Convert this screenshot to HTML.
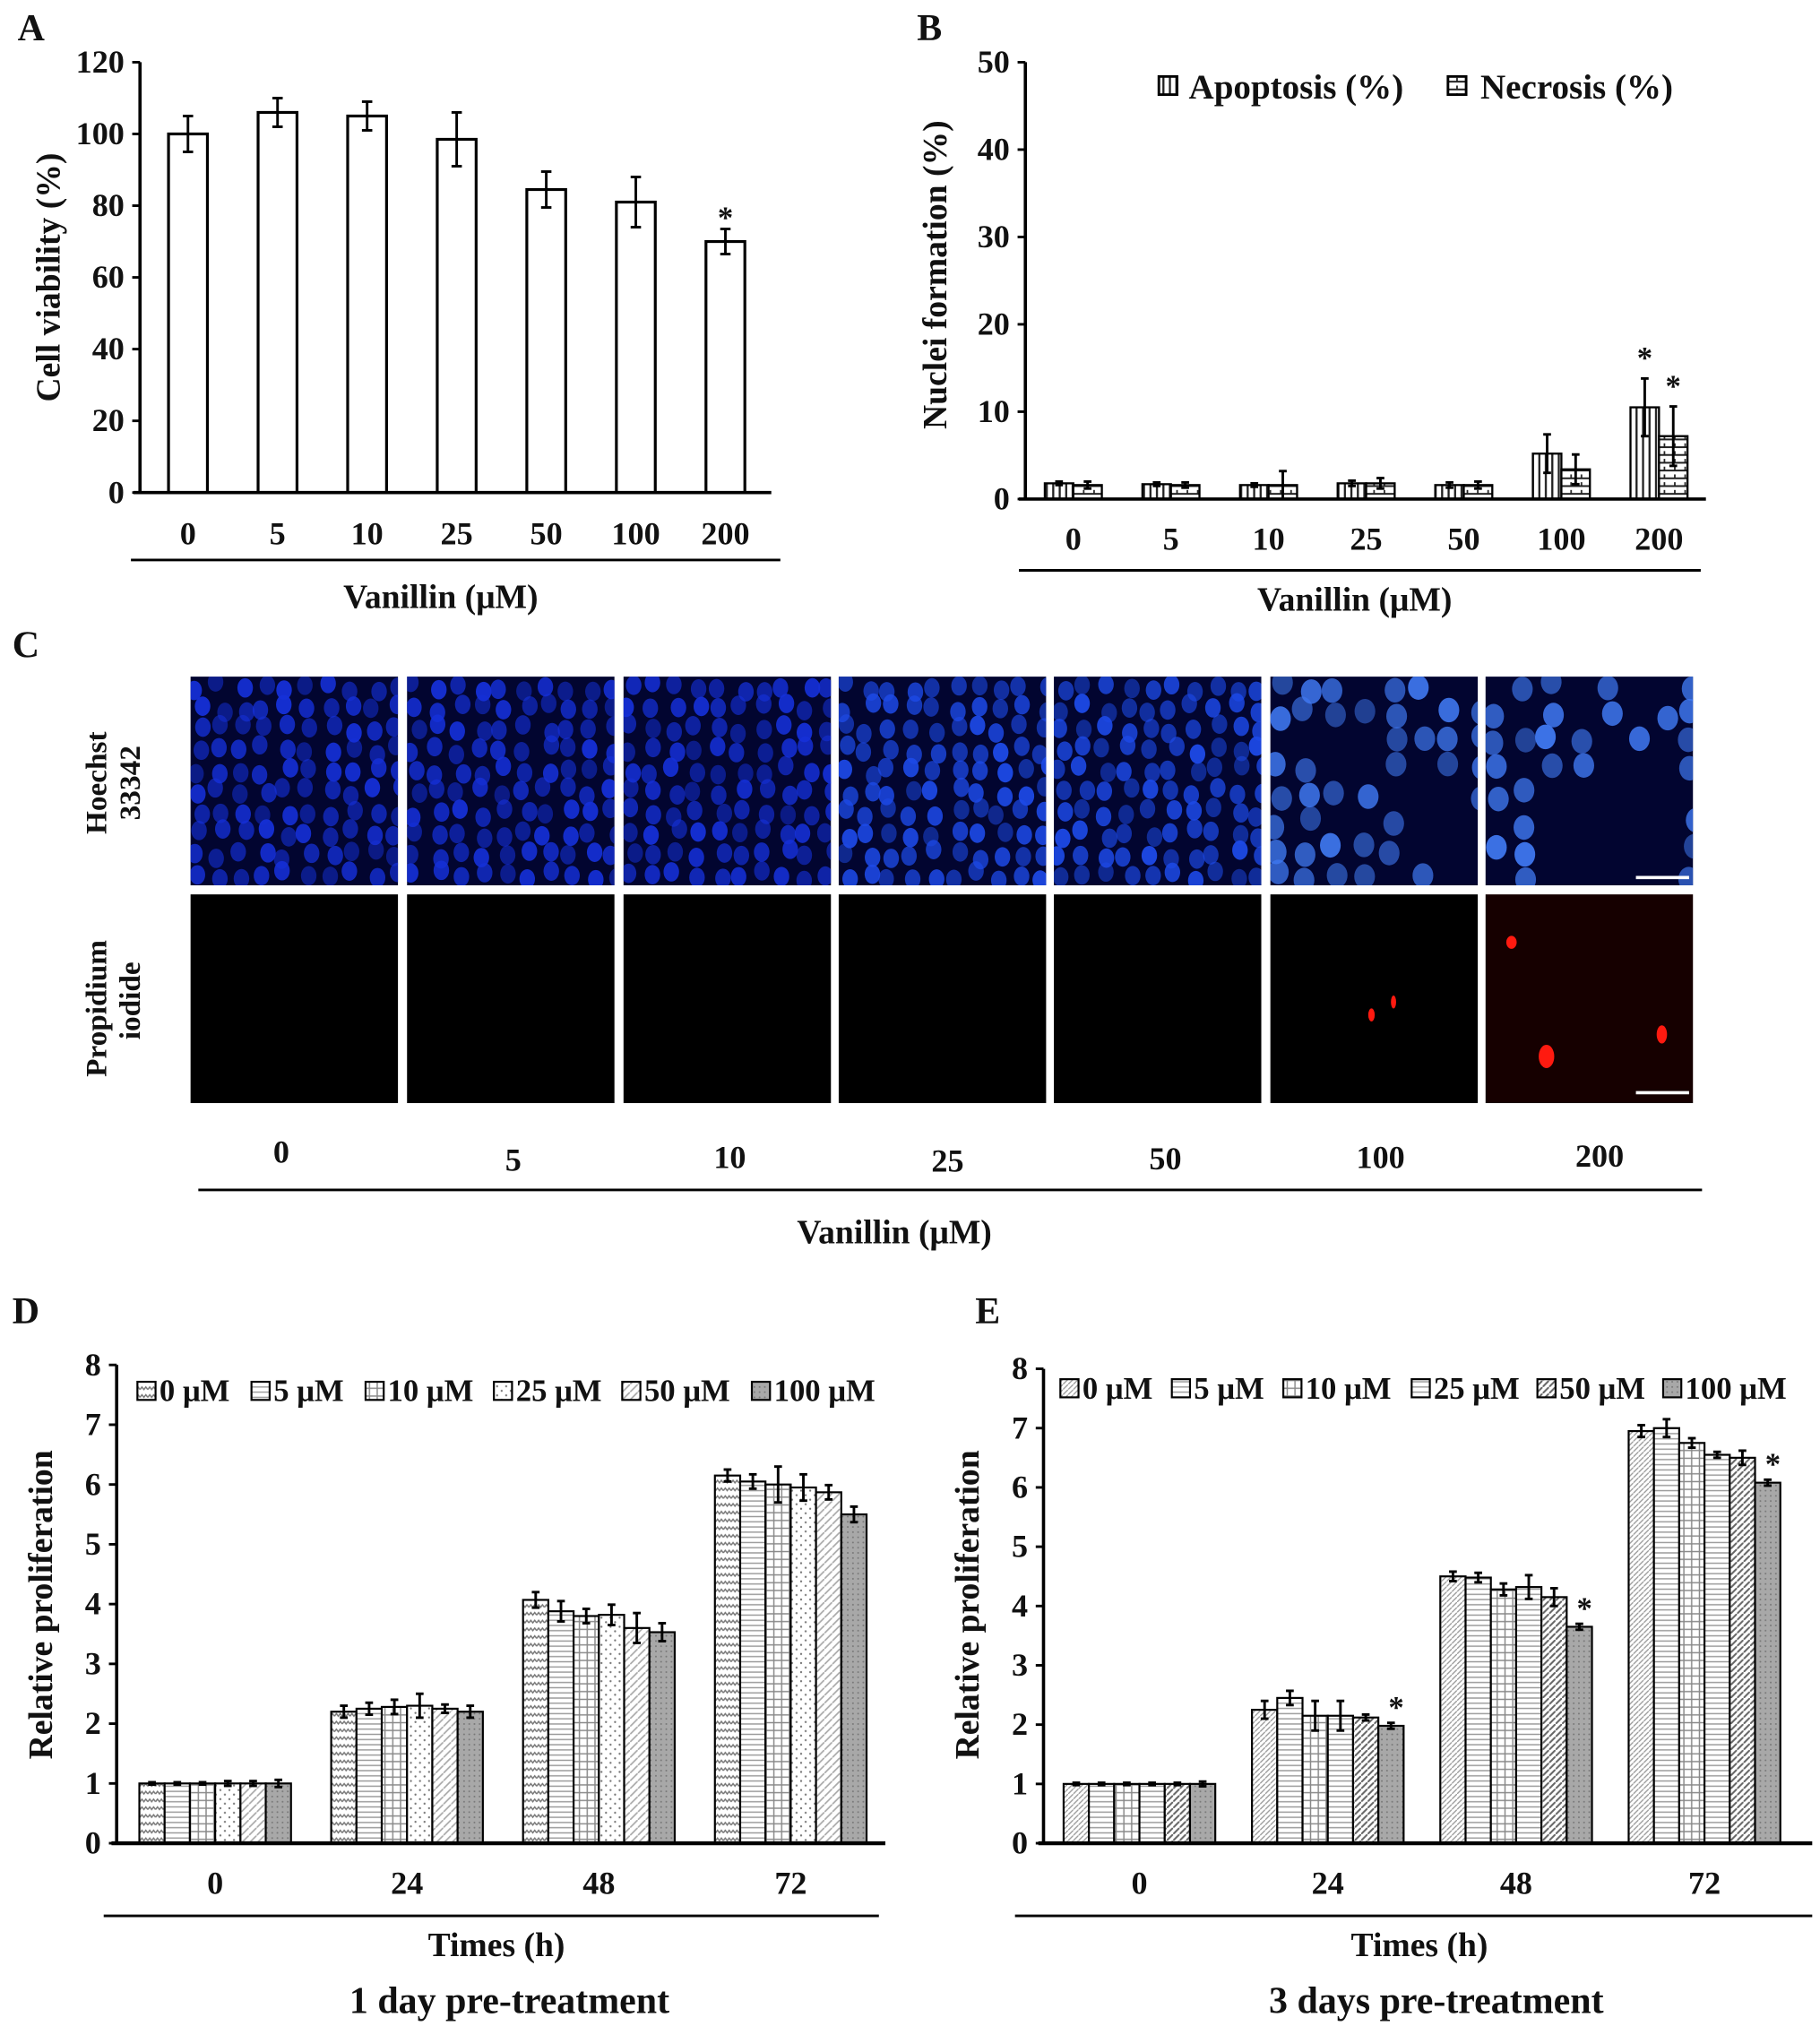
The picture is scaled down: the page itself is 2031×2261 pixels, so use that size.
<!DOCTYPE html>
<html><head><meta charset="utf-8">
<style>
html,body{margin:0;padding:0;background:#fff;}
svg{display:block;}
text{font-family:"Liberation Serif",serif;font-weight:bold;fill:#111;}
</style></head>
<body>
<svg id="fig" width="2031" height="2261" viewBox="0 0 1404 1563" xmlns="http://www.w3.org/2000/svg">
<defs id="defs">
<pattern id="pVert" width="5" height="5" patternUnits="userSpaceOnUse"><rect width="5" height="5" fill="#fff"/><line x1="2.5" y1="0" x2="2.5" y2="5" stroke="#222" stroke-width="1.6"/></pattern>
<pattern id="pBrick" width="8" height="6" patternUnits="userSpaceOnUse"><rect width="8" height="6" fill="#fff"/><line x1="0" y1="3" x2="8" y2="3" stroke="#222" stroke-width="1.4"/><line x1="4" y1="0" x2="4" y2="3" stroke="#222" stroke-width="1.2"/></pattern>
<pattern id="pWave" width="6" height="6" patternUnits="userSpaceOnUse"><rect width="6" height="6" fill="#fff"/><polyline points="0,4 1.5,2 3,4 4.5,2 6,4" fill="none" stroke="#777" stroke-width="1"/></pattern>
<pattern id="pHoriz" width="4" height="4" patternUnits="userSpaceOnUse"><rect width="4" height="4" fill="#fff"/><line x1="0" y1="2" x2="4" y2="2" stroke="#999" stroke-width="1"/></pattern>
<pattern id="pGrid" width="6" height="6" patternUnits="userSpaceOnUse"><rect width="6" height="6" fill="#fff"/><line x1="3" y1="0" x2="3" y2="6" stroke="#888" stroke-width="1"/><line x1="0" y1="3" x2="6" y2="3" stroke="#888" stroke-width="1"/></pattern>
<pattern id="pDots" width="7" height="7" patternUnits="userSpaceOnUse"><rect width="7" height="7" fill="#fff"/><circle cx="2" cy="2" r="0.8" fill="#777"/><circle cx="5.5" cy="5.5" r="0.8" fill="#777"/></pattern>
<pattern id="pDiag" width="6" height="6" patternUnits="userSpaceOnUse"><rect width="6" height="6" fill="#fff"/><line x1="0" y1="6" x2="6" y2="0" stroke="#aaa" stroke-width="1.2"/></pattern>
<pattern id="pDiagBold" width="5" height="5" patternUnits="userSpaceOnUse"><rect width="5" height="5" fill="#fff"/><line x1="0" y1="5" x2="5" y2="0" stroke="#666" stroke-width="1.4"/></pattern>
<pattern id="pDiagDense" width="4" height="4" patternUnits="userSpaceOnUse"><rect width="4" height="4" fill="#fff"/><line x1="0" y1="4" x2="4" y2="0" stroke="#999" stroke-width="0.9"/></pattern>
<pattern id="pGray" width="4" height="4" patternUnits="userSpaceOnUse"><rect width="4" height="4" fill="#a8a8a8"/><circle cx="2" cy="2" r="0.7" fill="#777"/></pattern>
</defs>
<g id="root"></g>
</svg>
<script>
// ---------- Data ----------
const catsA = ["0","5","10","25","50","100","200"];
const valsA = [100,106,105,98.5,84.5,81,70];
const errA  = [5,4,4,7.5,5,7,3.5];
const ticksA = [0,20,40,60,80,100,120];

const catsB = ["0","5","10","25","50","100","200"];
const apoB = [1.8,1.7,1.6,1.8,1.6,5.2,10.5];
const apoErrB = [0.2,0.2,0.2,0.3,0.3,2.2,3.3];
const necB = [1.6,1.6,1.6,1.8,1.6,3.4,7.2];
const necErrB = [0.4,0.3,1.6,0.6,0.4,1.7,3.4];
const ticksB = [0,10,20,30,40,50];

const catsC = ["0","5","10","25","50","100","200"];

const timesDE = ["0","24","48","72"];
const seriesNames = ["0 μM","5 μM","10 μM","25 μM","50 μM","100 μM"];
const ticksDE = [0,1,2,3,4,5,6,7,8];
const valsD0 = [1,1,1,1,1,1];
const valsD24 = [2.2,2.25,2.28,2.3,2.25,2.2];
const valsD48 = [4.07,3.88,3.8,3.82,3.6,3.53];
const valsD72 = [6.15,6.05,6.0,5.95,5.87,5.5];
const errD0 = [0.02,0.02,0.02,0.04,0.04,0.06];
const errD24 = [0.1,0.1,0.12,0.2,0.07,0.1];
const errD48 = [0.13,0.17,0.12,0.17,0.25,0.15];
const errD72 = [0.1,0.12,0.3,0.22,0.12,0.13];
const valsE0 = [1,1,1,1,1,1];
const valsE24 = [2.25,2.45,2.15,2.15,2.12,1.98];
const valsE48 = [4.5,4.48,4.28,4.32,4.15,3.65];
const valsE72 = [6.95,7.0,6.75,6.55,6.5,6.08];
const errE0 = [0.02,0.02,0.02,0.02,0.02,0.04];
const errE24 = [0.15,0.12,0.25,0.25,0.05,0.05];
const errE48 = [0.08,0.08,0.1,0.2,0.15,0.05];
const errE72 = [0.1,0.15,0.08,0.05,0.12,0.05];
const starsE = [[1,5],[2,5],[3,5]];

// ---------- Helpers ----------
const NS="http://www.w3.org/2000/svg";
const root=document.getElementById('root');
const defs=document.getElementById('defs');
const TF=25;
function mk(tag, attrs, parent){const e=document.createElementNS(NS,tag);for(const k in attrs)e.setAttribute(k,attrs[k]);(parent||root).appendChild(e);return e;}
function txt(s,x,y,size,anchor,name,parent,rot){
  const t=mk('text',{x:x,y:y,'font-size':size,'text-anchor':anchor||'middle'},parent);
  t.textContent=s;
  
  
  if(rot) t.setAttribute('transform','rotate(-90 '+x+' '+y+')');
  return t;
}
function line(x1,y1,x2,y2,w,name,parent,col){
  const l=mk('line',{x1:x1,y1:y1,x2:x2,y2:y2,stroke:col||'#000','stroke-width':w},parent);
  
  
  return l;
}
function errbar(x,yv,ye,cap,name,parent){
  line(x,ye.lo,x,ye.hi,2,name,parent);
  line(x-cap,ye.lo,x+cap,ye.lo,2,name+'-cap',parent);
  line(x-cap,ye.hi,x+cap,ye.hi,2,name+'-cap',parent);
}
function yAxis(ax,ticks,name,fs){
  const g=mk('g',{});
  
  
  line(ax.x0,ax.yTop,ax.x0,ax.y0+1,2.5,name+'-line',g);
  ticks.forEach(v=>{
    const y=ax.y(v);
    line(ax.x0-6,y,ax.x0,y,2,name+'-tick',g);
    txt(String(v),ax.x0-12,y+8,fs,'end',name+'-tick-label',g);
  });
  return g;
}
function makeAxis(x0,y0,yTop,max){return {x0:x0,y0:y0,yTop:yTop,y:v=>y0-(v/max)*(y0-yTop)};}

// ---------- Panel A ----------
(function(){
  const g=mk('g',{});
  
  
  txt('A',24,31,29,'middle','panel-a-label',g);
  const ax=makeAxis(108,380,48,120);
  const x=i=>145+i*69.1;
  catsA.forEach((c,i)=>{
    const yv=ax.y(valsA[i]);
    const r=mk('rect',{x:x(i)-15,y:yv,width:30,height:ax.y0-yv,fill:'#fff',stroke:'#000','stroke-width':2.2},g);
    
    
    errbar(x(i),yv,{lo:ax.y(valsA[i]-errA[i]),hi:ax.y(valsA[i]+errA[i])},4,'error-bar-'+c,g);
    txt(c,x(i),420,TF,'middle','x-tick-label',g);
  });
  txt('*',x(6),176,24,'middle','significance-star',g);
  yAxis(ax,ticksA,'y-axis-a',TF);
  line(103,ax.y0,595,ax.y0,2.5,'x-axis-a',g);
  line(101,432,602,432,2,'group-underline',g);
  txt('Vanillin (μM)',340,469,26,'middle','x-axis-title',g);
  txt('Cell viability (%)',46,214,26,'middle','y-axis-title',g,true);
})();

// ---------- Panel B ----------
(function(){
  const g=mk('g',{});
  
  
  txt('B',717,31,29,'middle','panel-b-label',g);
  const ax=makeAxis(791,385,48,50);
  const x=i=>828+i*75.3;
  catsB.forEach((c,i)=>{
    [[apoB,apoErrB,'url(#pVert)',-11,'apoptosis'],[necB,necErrB,'url(#pBrick)',11,'necrosis']].forEach(s=>{
      const v=s[0][i],e=s[1][i],cx=x(i)+s[3];
      const yv=ax.y(v);
      const r=mk('rect',{x:cx-11,y:yv,width:22,height:ax.y0-yv,fill:s[2],stroke:'#000','stroke-width':1.6},g);
      
      
      errbar(cx,yv,{lo:ax.y(Math.max(0,v-e)),hi:ax.y(v+e)},3,'error-bar-'+s[4],g);
    });
    txt(c,x(i),424,TF,'middle','x-tick-label',g);
  });
  txt('*',x(6)-11,284,24,'middle','significance-star',g);
  txt('*',x(6)+11,306,24,'middle','significance-star',g);
  yAxis(ax,ticksB,'y-axis-b',TF);
  line(786,ax.y0,1316,ax.y0,2.5,'x-axis-b',g);
  line(786,440,1312,440,2,'group-underline',g);
  txt('Vanillin (μM)',1045,471,26,'middle','x-axis-title',g);
  txt('Nuclei formation (%)',730,212,26,'middle','y-axis-title',g,true);
  const lg=mk('g',{},g);
  
  
  const r1=mk('rect',{x:894,y:59,width:14,height:14,fill:'url(#pVert)',stroke:'#000','stroke-width':2},lg);
  
  
  txt('Apoptosis (%)',917,76,27,'start','legend-entry-apoptosis',lg);
  const r2=mk('rect',{x:1117,y:59,width:14,height:14,fill:'url(#pBrick)',stroke:'#000','stroke-width':2},lg);
  
  
  txt('Necrosis (%)',1142,76,27,'start','legend-entry-necrosis',lg);
})();

// ---------- Panel C (micrographs) ----------
(function(){
  const g=mk('g',{});
  
  
  txt('C',20,507,29,'middle','panel-c-label',g);
  const colX=[147,314,481,647,813,980,1146];
  let seed=12345;
  const rnd=()=>{seed=(seed*16807)%2147483647;return seed/2147483647;};
  colX.forEach((cx,i)=>{
    const cp=mk('clipPath',{id:'clip'+i},defs);
    mk('rect',{x:cx,y:522,width:160,height:161},cp);
    const h=mk('rect',{x:cx,y:522,width:160,height:161,fill:'#020530'},g);
    
    
    const dense=i<5;
    const step=dense?17:22;
    const cl=mk('g',{'clip-path':'url(#clip'+i+')'},g);
    
    
    for(let yy=530;yy<690;yy+=step*0.95){
      for(let xx=cx+6;xx<cx+165;xx+=step){
        if(!dense && rnd()<0.4) continue;
        if(i===6 && yy>610 && xx>cx+40 && xx<cx+140) continue;
        const ex=xx+(rnd()-0.5)*8, ey=yy+(rnd()-0.5)*8;
        const col=dense? (i>=3?'#1d4ae8':'#1530d8') : '#3f78f0';
        const e=mk('ellipse',{cx:ex,cy:ey,rx:dense?6:8,ry:dense?7.5:9.5,fill:col,opacity:0.5+rnd()*0.45},cl);
        
        
      }
    }
    const p=mk('rect',{x:cx,y:690,width:160,height:161,fill:i===6?'#160000':'#000'},g);
    
    
  });
  [[1058,783,2.5,5],[1075,773,2,5],[1166,727,4,5],[1193,815,6,9],[1282,798,4,7]].forEach(s=>{
    const e=mk('ellipse',{cx:s[0],cy:s[1],rx:s[2],ry:s[3],fill:'#ff1a10'},g);
    
    
  });
  line(1262,677,1303,677,2.5,'scale-bar',g,'#fff');
  line(1262,843,1303,843,2.5,'scale-bar',g,'#fff');
  txt('Hoechst',82,604,23,'middle','row-label-hoechst',g,true);
  txt('33342',108,604,23,'middle','row-label-hoechst',g,true);
  txt('Propidium',82,778,23,'middle','row-label-pi',g,true);
  txt('iodide',108,772,23,'middle','row-label-pi',g,true);
  const lx=[217,396,563,731,899,1065,1234], ly=[897,903,901,904,902,901,900];
  catsC.forEach((c,i)=>txt(c,lx[i],ly[i],TF,'middle','concentration-label',g));
  line(153,918,1313,918,2,'group-underline',g);
  txt('Vanillin (μM)',690,959,26,'middle','x-axis-title',g);
})();

// ---------- Panels D & E ----------
const fillsD=['url(#pWave)','url(#pHoriz)','url(#pGrid)','url(#pDots)','url(#pDiag)','url(#pGray)'];
const fillsE=['url(#pDiagDense)','url(#pHoriz)','url(#pGrid)','url(#pHoriz)','url(#pDiagBold)','url(#pGray)'];
function prolif(p){
  const g=mk('g',{});
  
  
  txt(p.letter,p.lx,1021,29,'middle','panel-label',g);
  const ax=makeAxis(p.x0,1422,p.yTop,8);
  const xg=i=>p.c0+i*p.sp;
  const bw=19.5;
  p.vals.forEach((arr,gi)=>{
    arr.forEach((v,si)=>{
      const cx=xg(gi)+(si-2.5)*bw;
      const yv=ax.y(v);
      const r=mk('rect',{x:cx-bw/2,y:yv,width:bw,height:ax.y0-yv,fill:p.fills[si],stroke:'#000','stroke-width':1.5},g);
      
      
      const e=p.errs[gi][si];
      errbar(cx,yv,{lo:ax.y(v-e),hi:ax.y(v+e)},3,'error-bar',g);
    });
    txt(timesDE[gi],xg(gi),1461,TF,'middle','x-tick-label',g);
  });
  (p.stars||[]).forEach(s=>{
    const cx=xg(s[0])+(s[1]-2.5)*bw;
    const v=p.vals[s[0]][s[1]]+p.errs[s[0]][s[1]];
    txt('*',cx+4,ax.y(v)-4,24,'middle','significance-star',g);
  });
  yAxis(ax,ticksDE,'y-axis',TF);
  line(p.x0-4,ax.y0,p.xEnd,ax.y0,3,'x-axis',g);
  line(p.u0,1478,p.u1,1478,2,'group-underline',g);
  txt('Times (h)',p.tx,1509,26,'middle','x-axis-title',g);
  txt(p.sub,p.sx,1553,29,'middle','panel-subtitle',g);
  txt('Relative proliferation',p.x0-50,1238,26,'middle','y-axis-title',g,true);
  const lg=mk('g',{},g);
  
  
  seriesNames.forEach((n,si)=>{
    const lx=p.legX[si];
    const r=mk('rect',{x:lx,y:p.legY-15,width:14,height:14,fill:p.fills[si],stroke:'#000','stroke-width':1.5},lg);
    
    
    txt(n,lx+17,p.legY,24,'start','legend-entry',lg);
  });
}
prolif({name:'panel-d-chart',letter:'D',lx:20,x0:90,yTop:1053,c0:166,sp:148,xEnd:683,u0:80,u1:678,tx:383,sx:393,
  sub:'1 day pre-treatment',fills:fillsD,vals:[valsD0,valsD24,valsD48,valsD72],errs:[errD0,errD24,errD48,errD72],
  legX:[106,194,282,381,480,580],legY:1081});
prolif({name:'panel-e-chart',letter:'E',lx:762,x0:805,yTop:1056,c0:879,sp:145.3,xEnd:1398,u0:783,u1:1398,tx:1095,sx:1108,
  sub:'3 days pre-treatment',fills:fillsE,vals:[valsE0,valsE24,valsE48,valsE72],errs:[errE0,errE24,errE48,errE72],
  stars:starsE,legX:[818,904,990,1089,1186,1283],legY:1079});
</script>
</body></html>
